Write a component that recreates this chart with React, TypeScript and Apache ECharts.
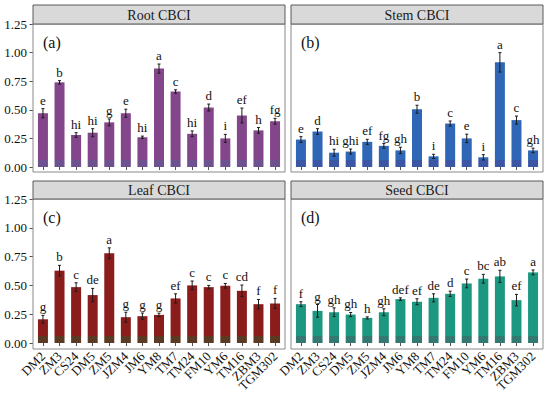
import React, { useEffect, useRef } from "react";
import * as echarts from "echarts";

const categories = ["DM2", "ZM3", "CS24", "DM5", "ZM5", "JZM4", "JM6", "YM8", "TM7", "TM24", "FM10", "YM6", "TM16", "ZBM3", "TGM302"];
const yTicks = [0, 0.25, 0.5, 0.75, 1.0, 1.25];

const rootMean = [0.47, 0.74, 0.28, 0.3, 0.39, 0.47, 0.26, 0.86, 0.66, 0.29, 0.52, 0.25, 0.45, 0.32, 0.4];
const rootErr = [0.04, 0.015, 0.02, 0.035, 0.03, 0.035, 0.01, 0.04, 0.015, 0.025, 0.03, 0.035, 0.065, 0.025, 0.025];
const rootLetters = ["e", "b", "hi", "hi", "g", "e", "hi", "a", "c", "hi", "d", "i", "ef", "h", "fg"];

const stemMean = [0.24, 0.31, 0.125, 0.135, 0.22, 0.185, 0.145, 0.505, 0.093, 0.38, 0.25, 0.085, 0.915, 0.41, 0.145];
const stemErr = [0.025, 0.025, 0.03, 0.022, 0.022, 0.02, 0.028, 0.035, 0.018, 0.022, 0.037, 0.023, 0.085, 0.035, 0.02];
const stemLetters = ["e", "d", "hi", "ghi", "ef", "fg", "gh", "b", "i", "c", "e", "i", "a", "c", "gh"];

const leafMean = [0.206, 0.628, 0.485, 0.416, 0.779, 0.224, 0.233, 0.244, 0.387, 0.5, 0.485, 0.497, 0.453, 0.337, 0.343];
const leafErr = [0.034, 0.046, 0.038, 0.058, 0.047, 0.043, 0.027, 0.015, 0.04, 0.038, 0.015, 0.02, 0.05, 0.041, 0.044];
const leafLetters = ["g", "b", "c", "de", "a", "g", "g", "g", "ef", "c", "c", "c", "cd", "f", "f"];

const seedMean = [0.337, 0.279, 0.267, 0.247, 0.218, 0.267, 0.381, 0.358, 0.392, 0.427, 0.517, 0.558, 0.578, 0.372, 0.613];
const seedErr = [0.021, 0.055, 0.038, 0.018, 0.009, 0.03, 0.011, 0.026, 0.035, 0.023, 0.038, 0.038, 0.053, 0.05, 0.021];
const seedLetters = ["f", "g", "gh", "gh", "h", "gh", "def", "ef", "de", "d", "c", "bc", "ab", "ef", "a"];

const FONT = "Liberation Serif";
const fontOf = (size: number) => `${size}px "Liberation Serif", serif`;

const colLeft = [33, 291];
const panelW = 252;
const rowTop = [24, 199];
const zeroY = [167, 343];
const panelBottom = [172, 349];
const stripTop = [5, 181];

export default function App() {
  const ref = useRef<HTMLDivElement>(null);

  useEffect(() => {
    if (!ref.current) return;
    const chart = echarts.init(ref.current, null, { renderer: "svg" });

    const panels = [
      { title: "Root CBCI", tag: "(a)", mean: rootMean, err: rootErr, letters: rootLetters, main: "#83468a", band: "#6e5290", col: 0, row: 0 },
      { title: "Stem CBCI", tag: "(b)", mean: stemMean, err: stemErr, letters: stemLetters, main: "#2f66b6", band: "#3a56a4", col: 1, row: 0 },
      { title: "Leaf CBCI", tag: "(c)", mean: leafMean, err: leafErr, letters: leafLetters, main: "#8a1d1c", band: "#5a3a22", col: 0, row: 1 },
      { title: "Seed CBCI", tag: "(d)", mean: seedMean, err: seedErr, letters: seedLetters, main: "#1c9880", band: "#347872", col: 1, row: 1 },
    ];

    const unit = panelW / 15.2;
    const gridW = unit * 15;
    const shiftX = unit * 0.1;

    const grids: any[] = [];
    const xAxes: any[] = [];
    const yAxes: any[] = [];
    const series: any[] = [];
    const graphics: any[] = [];

    panels.forEach((p, k) => {
      const L = colLeft[p.col];
      const T = rowTop[p.row];
      const Z = zeroY[p.row];
      const B = panelBottom[p.row];
      grids.push({ left: L + shiftX, top: T, width: gridW, height: Z - T, show: false });
      xAxes.push({
        type: "category",
        gridIndex: k,
        data: categories,
        boundaryGap: true,
        offset: B - Z,
        axisLine: { show: false },
        axisTick: { show: true, alignWithLabel: true, length: 3, lineStyle: { color: "#555", width: 1 } },
        axisLabel: {
          show: p.row === 1,
          interval: 0,
          rotate: 45,
          margin: 5,
          fontFamily: FONT,
          fontSize: 13,
          color: "#111",
        },
        splitLine: { show: false },
      });
      yAxes.push({
        type: "value",
        gridIndex: k,
        min: yTicks[0],
        max: yTicks[yTicks.length - 1],
        interval: 0.25,
        offset: shiftX,
        axisLine: { show: false },
        axisTick: { show: p.col === 0, length: 3.5, lineStyle: { color: "#555", width: 1 } },
        axisLabel: {
          show: p.col === 0,
          margin: 6,
          fontFamily: FONT,
          fontSize: 13,
          color: "#111",
          formatter: (v: number) => v.toFixed(2),
        },
        splitLine: { show: false },
      });
      const s = (Z - 7 - T) / (Z - T);
      series.push({
        type: "bar",
        xAxisIndex: k,
        yAxisIndex: k,
        barWidth: 10,
        data: p.mean,
        itemStyle: {
          color: new echarts.graphic.LinearGradient(0, T, 0, Z, [
            { offset: 0, color: p.main },
            { offset: s, color: p.main },
            { offset: s, color: p.band },
            { offset: 1, color: p.band },
          ], true),
        },
        z: 2,
      });
      const letters = p.letters;
      series.push({
        type: "custom",
        xAxisIndex: k,
        yAxisIndex: k,
        data: p.mean.map((m, i) => [i, m, p.err[i]]),
        encode: { x: 0, y: 1 },
        z: 3,
        renderItem: (params: any, api: any) => {
          const i = api.value(0);
          const m = api.value(1);
          const e = api.value(2);
          const top = api.coord([i, m + e]);
          const bot = api.coord([i, m - e]);
          const x = top[0];
          const ls = { stroke: "#1a1a1a", lineWidth: 1 };
          return {
            type: "group",
            children: [
              { type: "line", shape: { x1: x, y1: top[1], x2: x, y2: bot[1] }, style: ls },
              { type: "line", shape: { x1: x - 1.5, y1: top[1], x2: x + 1.5, y2: top[1] }, style: ls },
              { type: "line", shape: { x1: x - 1.5, y1: bot[1], x2: x + 1.5, y2: bot[1] }, style: ls },
              {
                type: "text",
                style: {
                  text: letters[params.dataIndex],
                  x: x,
                  y: top[1] - 2,
                  align: "center",
                  verticalAlign: "bottom",
                  font: fontOf(13),
                  fill: "#111",
                },
              },
            ],
          };
        },
      });

      graphics.push({
        type: "rect",
        shape: { x: L, y: T, width: panelW, height: B - T },
        style: { fill: "none", stroke: "#8a8a8a", lineWidth: 1 },
        z: 10,
        silent: true,
      });
      graphics.push({
        type: "rect",
        shape: { x: L, y: stripTop[p.row], width: panelW, height: T - stripTop[p.row] },
        style: { fill: "#d9d9d9", stroke: "#5a5a5a", lineWidth: 1 },
        z: 10,
        silent: true,
      });
      graphics.push({
        type: "text",
        style: {
          text: p.title,
          x: L + panelW / 2,
          y: (stripTop[p.row] + T) / 2 + 0.5,
          align: "center",
          verticalAlign: "middle",
          font: fontOf(14),
          fill: "#1a1a1a",
        },
        z: 11,
        silent: true,
      });
      graphics.push({
        type: "text",
        style: {
          text: p.tag,
          x: L + 10,
          y: T + 18,
          align: "left",
          verticalAlign: "middle",
          font: fontOf(16),
          fill: "#111",
        },
        z: 11,
        silent: true,
      });
    });

    chart.setOption({
      animation: false,
      backgroundColor: "#ffffff",
      textStyle: { fontFamily: FONT },
      grid: grids,
      xAxis: xAxes,
      yAxis: yAxes,
      series,
      graphic: graphics,
    });

    return () => chart.dispose();
  }, []);

  return <div ref={ref} style={{ position: "absolute", left: 0, top: 0, width: 550, height: 398 }} />;
}
